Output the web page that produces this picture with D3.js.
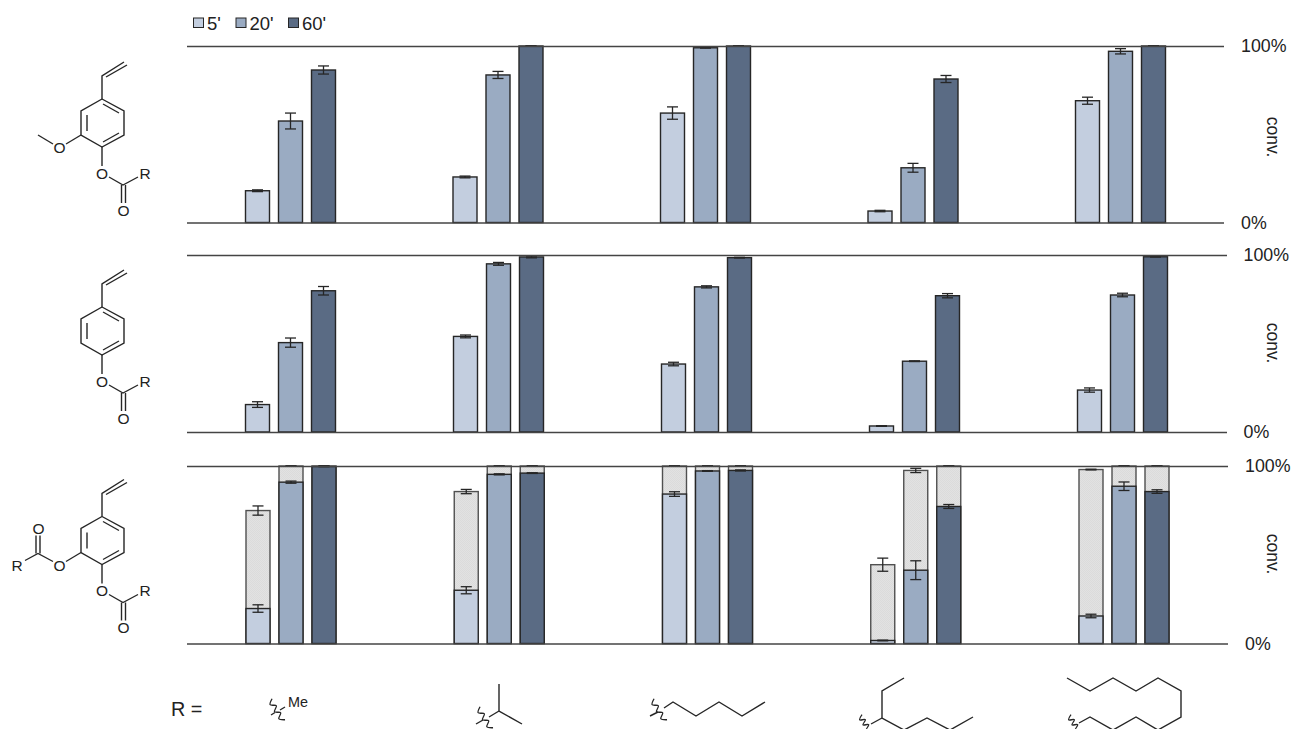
<!DOCTYPE html>
<html>
<head>
<meta charset="utf-8">
<script src="https://cdnjs.cloudflare.com/ajax/libs/d3/7.8.5/d3.min.js"></script>
<style>
  html, body { margin: 0; padding: 0; background: #fff; }
  svg { display: block; }
  text { font-family: "Liberation Sans", Arial, sans-serif; fill: #222; }
</style>
</head>
<body>
<svg id="chart" width="1292" height="729"></svg>
<script>
// % conversion per R group, columns are 5', 20', 60'
const rGroups = ["Me", "iPr", "pentyl", "heptanyl", "undecyl"];
const times = ["5'", "20'", "60'"];

const conv1 = [[18, 57.5, 86.4], [25.8, 83.6, 100], [62, 99, 100], [6.5, 31, 81.3], [69, 97, 100]];
const err1 = [[0.5, 4.5, 2.3], [0.5, 2, 0.1], [3.5, 0.2, 0.1], [0.4, 2.5, 2], [2, 1.5, 0.1]];

const conv2 = [[15.5, 50.5, 79.8], [54, 95, 98.9], [38.4, 82, 98.5], [3.4, 40, 77], [23.7, 77.4, 99]];
const err2 = [[1.6, 2.6, 2.4], [0.8, 0.8, 0.5], [1, 0.6, 0.2], [0.2, 0.2, 1.2], [1.2, 1, 0.1]];

const conv3 = [[19.7, 90.9, 99.7], [30, 95.3, 96], [84.2, 97.2, 97.5], [1.7, 41.3, 77.2], [15.5, 88.6, 85.6]];
const err3 = [[2.1, 0.6, 0.1], [2, 0.3, 0.2], [1.3, 0.2, 0.3], [0.2, 5.3, 1.1], [1, 2.4, 1]];

// grey part on top of the third row, its top and error
const total3 = [[74.9, 100, 100], [85.6, 100, 100], [100, 100, 100], [44.4, 97.5, 100], [98, 100, 100]];
const totalErr3 = [[2.6, 0.1, 0.1], [1.2, 0.1, 0.1], [0.1, 0.1, 0.1], [3.7, 1.2, 0.1], [0.2, 0.1, 0.1]];

const yTicks = [0, 100];
const colors = ["#c3cedf", "#9aabc2", "#5a6b84"];
const ink = "#262626";

const panels = [
  { conv: conv1, err: err1, top: 46, bottom: 222.5, first: 245.5, last: 1075.5, right: 1224, pad: 17, labelY: 137 },
  { conv: conv2, err: err2, top: 255, bottom: 432, first: 245.5, last: 1077.5, right: 1227, pad: 16.5, labelY: 343 },
  { conv: conv3, err: err3, total: total3, totalErr: totalErr3, top: 466, bottom: 643.5, first: 246, last: 1079, right: 1228, pad: 17, labelY: 554 }
];

const svg = d3.select("#chart");

const defs = svg.append("defs");
const pat = defs.append("pattern").attr("id", "dots")
  .attr("width", 2).attr("height", 2).attr("patternUnits", "userSpaceOnUse");
pat.append("rect").attr("width", 2).attr("height", 2).attr("fill", "#e2e2e2");
pat.append("rect").attr("width", 1).attr("height", 1).attr("fill", "#dbdbdb");
pat.append("rect").attr("x", 1).attr("y", 1).attr("width", 1).attr("height", 1).attr("fill", "#dbdbdb");

const inner = d3.scaleBand().domain(times).range([0, 90]).paddingInner(9 / 33);
const capW = 5.5;

panels.forEach(p => {
  const x = d3.scalePoint().domain(rGroups).range([p.first, p.last]);
  const y = d3.scaleLinear().domain([0, 100]).range([p.bottom, p.top]);
  const g = svg.append("g");

  // flatten to one record per bar
  const rows = [];
  rGroups.forEach((r, i) => times.forEach((t, j) => {
    rows.push({
      r, t, j,
      v: p.conv[i][j], e: p.err[i][j],
      total: p.total ? p.total[i][j] : null,
      totalE: p.totalErr ? p.totalErr[i][j] : null
    });
  }));
  const bx = d => x(d.r) + inner(d.t);

  if (p.total) {
    g.selectAll(".grey").data(rows).join("rect")
      .attr("class", "grey")
      .attr("x", bx)
      .attr("width", inner.bandwidth())
      .attr("y", d => y(d.total))
      .attr("height", d => y(0) - y(d.total))
      .attr("fill", "url(#dots)")
      .attr("stroke", "#505050")
      .attr("stroke-width", 1.4);
  }

  g.selectAll(".bar").data(rows).join("rect")
    .attr("class", "bar")
    .attr("x", bx)
    .attr("width", inner.bandwidth())
    .attr("y", d => y(d.v))
    .attr("height", d => y(0) - y(d.v))
    .attr("fill", d => colors[d.j])
    .attr("stroke", ink)
    .attr("stroke-width", 1.4);

  // error bars
  const errs = rows.map(d => ({ cx: bx(d) + inner.bandwidth() / 2, v: d.v, e: d.e }));
  if (p.total) {
    rows.forEach(d => errs.push({ cx: bx(d) + inner.bandwidth() / 2, v: d.total, e: d.totalE }));
  }
  const eb = g.selectAll(".err").data(errs).join("g").attr("class", "err")
    .attr("stroke", ink).attr("stroke-width", 1.3);
  eb.append("line").attr("x1", d => d.cx).attr("x2", d => d.cx)
    .attr("y1", d => y(d.v + d.e)).attr("y2", d => y(d.v - d.e));
  eb.append("line").attr("x1", d => d.cx - capW).attr("x2", d => d.cx + capW)
    .attr("y1", d => y(d.v + d.e)).attr("y2", d => y(d.v + d.e));
  eb.append("line").attr("x1", d => d.cx - capW).attr("x2", d => d.cx + capW)
    .attr("y1", d => y(d.v - d.e)).attr("y2", d => y(d.v - d.e));

  // the two rules and their labels come from the axis
  const axis = d3.axisRight(y).tickValues(yTicks).tickFormat(d => d + "%")
    .tickSize(-(p.right - 187)).tickPadding(p.pad);
  const ax = svg.append("g").attr("transform", `translate(${p.right},0)`).call(axis);
  ax.select(".domain").remove();
  ax.selectAll("line").attr("stroke", "#444").attr("stroke-width", 1.5);
  ax.selectAll("text").style("font-size", "17.8px").attr("fill", "#222");

  svg.append("text")
    .attr("transform", `translate(1267,${p.labelY}) rotate(90)`)
    .attr("text-anchor", "middle")
    .style("font-size", "17.5px")
    .text("conv.");
});

// legend
const legendX = [193.5, 236, 288.5];
const legend = svg.selectAll(".legend").data(times).join("g").attr("class", "legend")
  .attr("transform", (d, i) => `translate(${legendX[i]},18)`);
legend.append("rect").attr("width", 10).attr("height", 9.5)
  .attr("fill", (d, i) => colors[i]).attr("stroke", ink).attr("stroke-width", 1);
legend.append("text").attr("x", 13.5).attr("y", 11.5).style("font-size", "18.5px").text(d => d);

// ---- structures ----
const bondLine = d3.line();
function bonds(g, list) {
  g.selectAll(null).data(list).join("path")
    .attr("d", d => bondLine(d))
    .attr("fill", "none")
    .attr("stroke", ink)
    .attr("stroke-width", 1.4)
    .attr("stroke-linejoin", "miter");
}
function atoms(g, list) {
  g.selectAll(null).data(list).join("text")
    .attr("x", d => d[1]).attr("y", d => d[2])
    .attr("text-anchor", "middle").attr("dominant-baseline", "central")
    .style("font-size", "15.5px")
    .text(d => d[0]);
}

const styrene = [
  [[102, 99], [124, 111], [124, 135], [102, 147], [81, 135], [81, 111], [102, 99]],
  [[87, 115], [87, 131]],
  [[103, 104], [119, 113]],
  [[103, 142], [119, 133]],
  [[102, 99], [102, 76], [124, 62]],
  [[106, 77], [127, 65]],
  [[102, 147], [102, 166]],
  [[109, 177], [123, 185], [138, 177]],
  [[121.5, 185], [121.5, 203]],
  [[125.5, 185], [125.5, 203]]
];
const styreneAtoms = [["O", 102, 173], ["R", 145, 173], ["O", 123.5, 210]];

const m1 = svg.append("g");
bonds(m1, styrene.concat([[[81, 135], [66, 144]], [[38, 135], [53, 144]]]));
atoms(m1, styreneAtoms.concat([["O", 59.5, 147]]));

const m2 = svg.append("g").attr("transform", "translate(0,208)");
bonds(m2, styrene);
atoms(m2, styreneAtoms);

const m3 = svg.append("g").attr("transform", "translate(0,417.5)");
bonds(m3, styrene.concat([
  [[81, 135], [66, 144]],
  [[53, 144], [38, 136], [25, 143]],
  [[36, 136], [36, 118]],
  [[40, 136], [40, 118]]
]));
atoms(m3, styreneAtoms.concat([["O", 59.5, 148], ["R", 17, 148], ["O", 38.5, 111]]));

// wavy attachment mark: alternating offsets along the cut
const wavyLine = d3.line().curve(d3.curveCatmullRom);
function wavy(x0, y0, x1, y1) {
  const n = 6, dx = x1 - x0, dy = y1 - y0, len = Math.hypot(dx, dy);
  const pts = d3.range(n + 1).map(i => {
    const s = i % 2 ? 2.4 : -2.4;
    return [x0 + dx * i / n - dy / len * s, y0 + dy * i / n + dx / len * s];
  });
  svg.append("path").attr("d", wavyLine(pts)).attr("fill", "none")
    .attr("stroke", ink).attr("stroke-width", 1.3);
}

const rg = svg.append("g");
bonds(rg, [
  [[271, 715], [275, 712.5]], [[280, 710], [285, 707]],
  [[499, 684], [499, 711], [522, 724]],
  [[499, 711], [489, 717]], [[476, 724], [483, 720]],
  [[664, 708], [673, 702], [696, 716], [719, 702], [742, 716], [765, 702]],
  [[650, 716], [658, 712]],
  [[904, 678], [882, 691], [882, 718], [904, 730], [927, 718], [950, 730], [973, 717]],
  [[882, 718], [871, 724]],
  [[1067, 678], [1090, 691], [1113, 678], [1136, 691], [1158, 678], [1181, 691], [1181, 717], [1158, 730], [1136, 717], [1113, 730], [1090, 717], [1079, 723]]
]);
wavy(270, 700, 283, 721);
wavy(478, 708, 491, 729);
wavy(652, 700, 665, 721);
wavy(860, 716, 870, 731);
wavy(1069, 716, 1079, 731);

svg.append("text").attr("x", 288).attr("y", 706.5).style("font-size", "14.4px").text("Me");
svg.append("text").attr("x", 171).attr("y", 716).style("font-size", "19.8px").text("R =");
</script>
</body>
</html>
